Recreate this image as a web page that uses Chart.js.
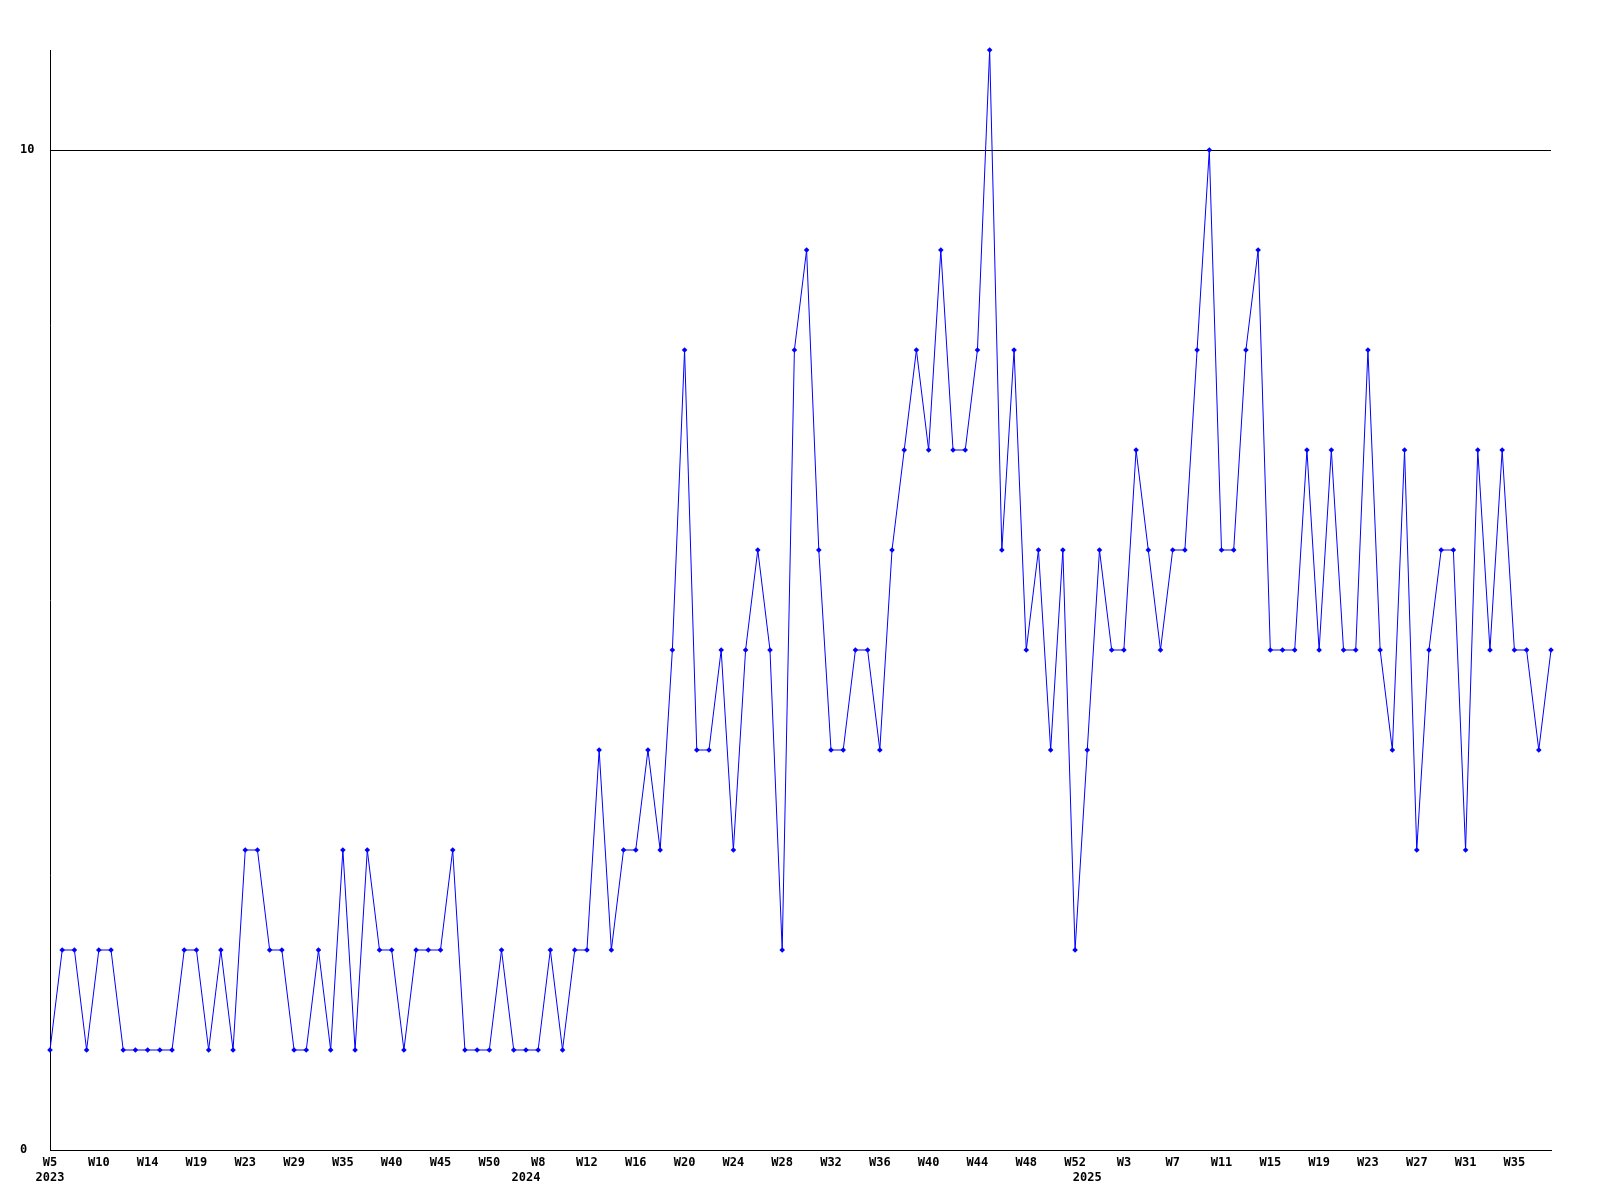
<!DOCTYPE html>
<html>
<head>
<meta charset="utf-8">
<script src="https://cdn.jsdelivr.net/npm/chart.js@4.4.1/dist/chart.umd.min.js"></script>
<style>
  html, body { margin: 0; padding: 0; background: #fff; }
  canvas { display: block; }
</style>
</head>
<body>
<canvas id="weekChart" width="1600" height="1200"></canvas>
<script>
// weeks that have a value, per year (gaps are weeks with no data)
const weeks2023 = ["W5", "W6", "W7", "W9", "W10", "W11", "W12", "W13", "W14", "W15", "W16", "W18",
  "W19", "W20", "W21", "W22", "W23", "W24", "W26", "W27", "W29", "W31", "W32", "W33",
  "W35", "W36", "W37", "W39", "W40", "W41", "W42", "W43", "W45", "W46", "W47", "W48",
  "W50", "W51", "W52"];
const weeks2024 = ["W6", "W8", "W9", "W10", "W11", "W12", "W13", "W14", "W15", "W16", "W17", "W18",
  "W19", "W20", "W21", "W22", "W23", "W24", "W25", "W26", "W27", "W28", "W29", "W30",
  "W31", "W32", "W33", "W34", "W35", "W36", "W37", "W38", "W39", "W40", "W41", "W42",
  "W43", "W44", "W45", "W46", "W47", "W48", "W49", "W50", "W51", "W52"];
const weeks2025 = ["W0", "W1", "W2", "W3", "W4", "W5", "W6", "W7", "W8", "W9", "W10", "W11",
  "W12", "W13", "W14", "W15", "W16", "W17", "W18", "W19", "W20", "W21", "W22", "W23",
  "W24", "W25", "W26", "W27", "W28", "W29", "W30", "W31", "W32", "W33", "W34", "W35",
  "W36", "W37", "W38"];

const counts = [
  1, 2, 2, 1, 2, 2, 1, 1, 1, 1, 1, 2, 2, 1, 2, 1, 3, 3, 2, 2, 1, 1, 2, 1, 3, 1, 3, 2, 2, 1,
  2, 2, 2, 3, 1, 1, 1, 2, 1, 1, 1, 2, 1,
  2, 2, 4, 2, 3, 3, 4, 3, 5, 8, 4, 4, 5, 3, 5, 6, 5, 2, 8, 9, 6, 4, 4, 5, 5, 4, 6,
  7, 8, 7, 9, 7, 7, 8, 11, 6, 8, 5, 6, 4, 6, 2, 4, 6, 5, 5, 7, 6, 5, 6, 6, 8, 10, 6, 6,
  8, 9, 5, 5, 5, 7, 5, 7, 5, 5, 8, 5, 4, 7, 3, 5, 6, 6, 3, 7, 5, 7, 5, 5, 4, 5
];

const yTicks = [0, 10];

const labels = [];
const yearStart = {};
[[2023, weeks2023], [2024, weeks2024], [2025, weeks2025]].forEach(([year, list]) => {
  yearStart[labels.length] = String(year);
  list.forEach(w => labels.push(w));
});

const font = { family: "DejaVu Sans Mono", size: 12, weight: "bold", lineHeight: 1.25 };

new Chart(document.getElementById("weekChart"), {
  type: "line",
  data: {
    labels: labels,
    datasets: [{
      data: counts,
      borderColor: "#0000ff",
      backgroundColor: "#0000ff",
      borderWidth: 1,
      tension: 0,
      fill: false,
      pointStyle: "rectRot",
      pointRadius: 2.8,
      pointBorderWidth: 0,
      clip: false
    }]
  },
  options: {
    responsive: false,
    animation: false,
    events: [],
    layout: { padding: { top: 50, left: 20, right: 49, bottom: 0 } },
    plugins: { legend: { display: false }, tooltip: { enabled: false } },
    scales: {
      x: {
        offset: false,
        grid: { display: false },
        border: { color: "#000", width: 1 },
        afterFit: s => { s.height = 50; },
        ticks: {
          autoSkip: false,
          maxRotation: 0,
          minRotation: 0,
          padding: -3,
          color: "#000",
          font: font,
          callback: function (value, index) {
            const week = index % 4 === 0 ? labels[index] : "";
            const year = yearStart[index] || "";
            if (!week && !year) return "";
            return [week, year];
          }
        }
      },
      y: {
        min: 0,
        max: 11,
        afterBuildTicks: s => { s.ticks = yTicks.map(v => ({ value: v })); },
        afterFit: s => { s.width = 30; },
        grid: { color: "#000", lineWidth: 1, drawTicks: false },
        border: { color: "#000", width: 1 },
        ticks: { crossAlign: "far", padding: 0, color: "#000", font: font }
      }
    }
  }
});
</script>
</body>
</html>
